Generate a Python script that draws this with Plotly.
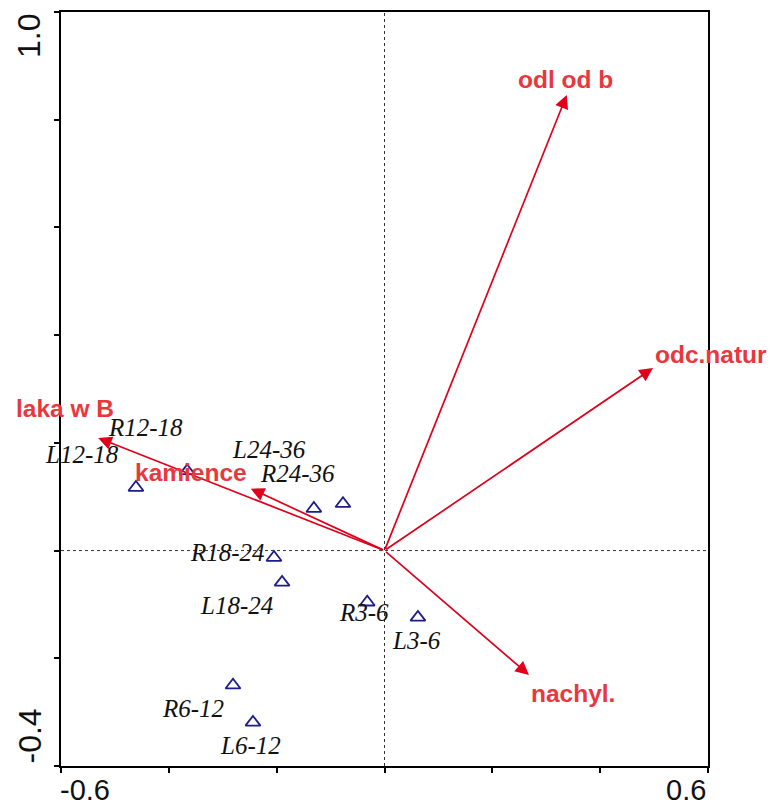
import plotly.graph_objects as go

# ---- data ----
env_names = ["odl od b", "odc.natur", "nachyl.", "laka w B", "kamience"]
env_x = [0.338, 0.498, 0.268, -0.531, -0.248]
env_y = [0.846, 0.339, -0.231, 0.209, 0.115]

site_names = ["L12-18", "R12-18", "L24-36", "R24-36", "R18-24",
              "L18-24", "R3-6", "L3-6", "R6-12", "L6-12"]
site_x = [-0.461, -0.366, -0.131, -0.077, -0.205, -0.190, -0.032, 0.062, -0.281, -0.244]
site_y = [0.117, 0.148, 0.078, 0.087, -0.013, -0.059, -0.096, -0.124, -0.250, -0.319]

x_range = [-0.6, 0.6]
y_range = [-0.4, 1.0]

# label offsets in pixels (dx right, dy down) - styling only
env_off = [(-1, -15), (58, -14), (44, 19), (-33, -30), (-60, -16)]
site_off = [(-54, -33), (-42, -43), (-45, -59), (-45, -30), (-46, -5),
            (-46, 23), (-3, 10), (-1, 23), (-40, 23), (-2, 23)]

ARROW = "#e0001b"
ENVTXT = "#e8383d"

fig = go.Figure()

fig.add_trace(go.Scatter(
    x=site_x, y=site_y, mode="markers",
    marker=dict(symbol="triangle-up-open", size=13, color="#1c1c8a",
                line=dict(width=1.8, color="#1c1c8a")),
    hoverinfo="text", text=site_names, showlegend=False))

ann = []
# arrows
for n, x, y in zip(env_names, env_x, env_y):
    ann.append(dict(x=x, y=y, ax=0, ay=0, xref="x", yref="y", axref="x", ayref="y",
                    text="", showarrow=True, arrowhead=2, arrowsize=1.6,
                    arrowwidth=1.7, arrowcolor=ARROW, standoff=0))
for (n, x, y), (dx, dy) in zip(zip(env_names, env_x, env_y), env_off):
    ann.append(dict(x=x, y=y, xref="x", yref="y", text=n, showarrow=False,
                    xshift=dx, yshift=-dy, xanchor="center", yanchor="middle",
                    font=dict(family="Liberation Sans, Arial", size=24.5,
                              color=ENVTXT, weight="bold")))
for (n, x, y), (dx, dy) in zip(zip(site_names, site_x, site_y), site_off):
    ann.append(dict(x=x, y=y, xref="x", yref="y", text="<i>" + n + "</i>",
                    showarrow=False, xshift=dx, yshift=-dy,
                    xanchor="center", yanchor="middle",
                    font=dict(family="Liberation Serif, Times New Roman", size=25,
                              color="#111111")))

# axis end labels
lab_font = dict(family="Liberation Sans, Arial", size=29, color="#111111")
ann.append(dict(x=x_range[0], y=0, xref="x", yref="paper", text="-0.6", showarrow=False,
                xanchor="left", yanchor="top", yshift=-6, xshift=-3, font=lab_font))
ann.append(dict(x=x_range[1], y=0, xref="x", yref="paper", text="0.6", showarrow=False,
                xanchor="right", yanchor="top", yshift=-6, font=lab_font))
ann.append(dict(x=0, y=y_range[1], xref="paper", yref="y", text="1.0", showarrow=False,
                xanchor="center", yanchor="top", xshift=-32, textangle=-90,
                font=dict(family="Liberation Sans, Arial", size=32, color="#111111")))
ann.append(dict(x=0, y=y_range[0], xref="paper", yref="y", text="-0.4", showarrow=False,
                xanchor="center", yanchor="bottom", xshift=-32, textangle=-90,
                font=dict(family="Liberation Sans, Arial", size=32, color="#111111")))

shapes = [
    dict(type="line", xref="x", yref="y", x0=0, x1=0, y0=y_range[0], y1=y_range[1],
         line=dict(color="#333333", width=1, dash="dot"), layer="below"),
    dict(type="line", xref="x", yref="y", x0=x_range[0], x1=x_range[1], y0=0, y1=0,
         line=dict(color="#333333", width=1, dash="dot"), layer="below"),
]

axis_common = dict(showgrid=False, zeroline=False, showline=True, linecolor="black",
                   linewidth=2, mirror=True, ticks="outside", ticklen=5, tickwidth=1.5,
                   tickcolor="black", showticklabels=False)

fig.update_layout(
    width=769, height=807,
    margin=dict(l=61, r=61, t=10, b=41),
    paper_bgcolor="white", plot_bgcolor="white",
    xaxis=dict(range=x_range, dtick=0.2, tick0=-0.6, **axis_common),
    yaxis=dict(range=y_range, dtick=0.2, tick0=-0.4, **axis_common),
    annotations=ann, shapes=shapes, showlegend=False,
)

fig.write_html("out.html")
